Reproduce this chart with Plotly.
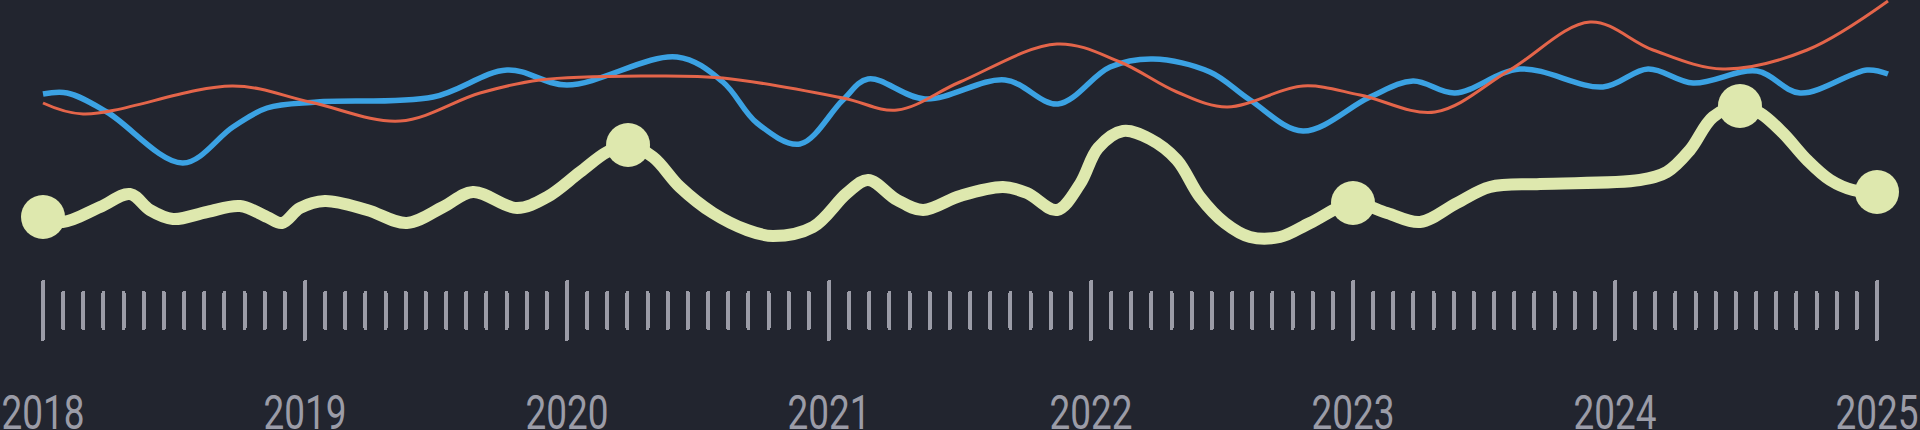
import plotly.graph_objects as go

# ---------------- data (x: decimal year, y: index value) ----------------
green_x = [2018.000, 2018.076, 2018.218, 2018.332, 2018.408, 2018.496, 2018.626, 2018.752,
           2018.855, 2018.912, 2018.981, 2019.076, 2019.237, 2019.389, 2019.527, 2019.641,
           2019.809, 2019.924, 2020.050, 2020.153, 2020.233, 2020.328, 2020.431, 2020.557,
           2020.687, 2020.786, 2020.939, 2021.069, 2021.149, 2021.260, 2021.359, 2021.500,
           2021.664, 2021.756, 2021.870, 2021.958, 2022.027, 2022.122, 2022.225, 2022.328,
           2022.416, 2022.511, 2022.607, 2022.721, 2022.836, 2023.000, 2023.130, 2023.256,
           2023.397, 2023.523, 2023.714, 2024.095, 2024.198, 2024.286, 2024.374, 2024.477,
           2024.553, 2024.641, 2024.733, 2024.821, 2024.908, 2025.000]
green_y = [213, 208, 223, 236, 220, 211, 218, 224,
           213, 207, 222, 229, 220, 207, 223, 238,
           222, 233, 258, 278, 285, 273, 243, 217,
           200, 194, 203, 237, 250, 230, 220, 234,
           243, 237, 220, 246, 282, 299, 291, 270,
           233, 207, 193, 193, 207, 227, 217, 208,
           227, 243, 246, 250, 258, 280, 313, 324,
           317, 297, 270, 250, 240, 238]
green_highlight = [0, 20, 45, 55, 61]  # indices of emphasised points

blue_x = [2018.000, 2018.092, 2018.244, 2018.534, 2018.725, 2018.855, 2019.046, 2019.489,
          2019.771, 2020.000, 2020.420, 2020.595, 2020.725, 2020.889, 2021.053, 2021.149,
          2021.366, 2021.672, 2021.874, 2022.073, 2022.237, 2022.454, 2022.607, 2022.809,
          2023.065, 2023.229, 2023.389, 2023.637, 2023.954, 2024.126, 2024.298, 2024.542,
          2024.706, 2024.962, 2025.042]
blue_y = [336, 337, 318, 267, 303, 322, 328, 333,
          360, 345, 373, 348, 307, 286, 330, 351,
          331, 350, 326, 363, 371, 358, 330, 299,
          333, 349, 337, 361, 343, 361, 347, 359,
          337, 360, 356]

orange_x = [2018.000, 2018.153, 2018.725, 2019.019, 2019.363, 2019.668, 2019.897, 2020.305,
            2020.595, 2021.053, 2021.260, 2021.500, 2021.870, 2022.111, 2022.328, 2022.519,
            2022.809, 2023.027, 2023.313, 2023.599, 2023.905, 2024.145, 2024.412, 2024.733,
            2025.042]
orange_y = [327, 316, 344, 328, 309, 337, 350, 354,
            352, 332, 320, 348, 386, 368, 338, 323,
            344, 335, 318, 360, 408, 380, 361, 380,
            429]

year_start, year_end = 2018, 2025
ticks_per_year = 13
year_labels = [str(y) for y in range(year_start, year_end + 1)]

# ---------------- tick positions ----------------
n_minor = (year_end - year_start) * ticks_per_year
minor_vals = [year_start + i / ticks_per_year for i in range(n_minor + 1)]
major_idx = [int(k * ticks_per_year / 2) for k in range(2 * (year_end - year_start) + 1)]
major_vals = [minor_vals[i] for i in major_idx]
major_text = [year_labels[k // 2] if k % 2 == 0 else "" for k in range(len(major_idx))]

# ---------------- style ----------------
BG = "#22252f"
TICK = "#9b9ca7"
GREEN = "#dee8ae"
BLUE = "#3ba2e3"
ORANGE = "#e4654a"
FONT = "Roboto, Liberation Sans, sans-serif"

W, H = 1920, 430
px_per_year = 262.0
x0 = year_start - 43 / px_per_year
x1 = x0 + W / px_per_year
xr = [x0, x1]

fig = go.Figure()
fig.add_trace(go.Scatter(x=blue_x, y=blue_y, mode="lines",
                         line=dict(color=BLUE, width=5.5, shape="spline", smoothing=1.0),
                         hoverinfo="skip", showlegend=False))
fig.add_trace(go.Scatter(x=orange_x, y=orange_y, mode="lines",
                         line=dict(color=ORANGE, width=3, shape="spline", smoothing=1.0),
                         hoverinfo="skip", showlegend=False))
fig.add_trace(go.Scatter(x=green_x, y=green_y, mode="lines",
                         line=dict(color=GREEN, width=12, shape="spline", smoothing=1.0),
                         hoverinfo="skip", showlegend=False))
fig.add_trace(go.Scatter(x=[green_x[i] for i in green_highlight],
                         y=[green_y[i] for i in green_highlight], mode="markers",
                         marker=dict(color=GREEN, size=44, line=dict(width=0)),
                         hoverinfo="skip", showlegend=False, cliponaxis=False))

common = dict(range=xr, overlaying="x", anchor="free", side="bottom",
              showgrid=False, zeroline=False, showline=False, tickmode="array",
              tickvals=major_vals, ticktext=major_text, tickcolor=TICK, tickwidth=4,
              automargin=False)

fig.update_layout(
    template="none",
    width=W, height=H,
    margin=dict(l=0, r=0, t=0, b=0, pad=0, autoexpand=False),
    paper_bgcolor=BG, plot_bgcolor=BG,
    xaxis=dict(range=xr, visible=False, showgrid=False, zeroline=False, automargin=False),
    yaxis=dict(range=[0, H], visible=False, showgrid=False, zeroline=False, automargin=False),
    # lower half of the tick marks + year labels
    xaxis2=dict(**common, position=(H - 310) / H, ticks="outside", ticklen=28,
                showticklabels=True, ticklabelstandoff=32, ticklabeloverflow="allow",
                tickfont=dict(family=FONT, size=48, color=TICK),
                minor=dict(ticks="outside", ticklen=17, tickwidth=4, tickcolor=TICK,
                           tickvals=minor_vals, showgrid=False)),
    # upper half of the tick marks
    xaxis3=dict(**common, position=(H - 312) / H, ticks="inside", ticklen=30,
                showticklabels=False,
                minor=dict(ticks="inside", ticklen=19, tickwidth=4, tickcolor=TICK,
                           tickvals=minor_vals, showgrid=False)),
)
# empty traces so the overlay tick axes are drawn
fig.add_trace(go.Scatter(x=[], y=[], xaxis="x2", yaxis="y", showlegend=False))
fig.add_trace(go.Scatter(x=[], y=[], xaxis="x3", yaxis="y", showlegend=False))

post = """
document.documentElement.style.overflow = 'hidden';
document.body.style.overflow = 'hidden';
document.body.style.margin = '0';
document.body.style.background = '#22252f';
var gd = document.getElementById('{plot_id}');
function narrowLabels(){
  gd.querySelectorAll('text').forEach(function(t){
    var g = t.parentNode;
    if (!g || !g.getAttribute) return;
    var cls = g.getAttribute('class') || '';
    if (!/tick$/.test(cls)) return;
    var tr = t.getAttribute('transform') || '';
    if (tr.indexOf('scale(') < 0) t.setAttribute('transform', tr + ' scale(0.77,1)');
  });
  gd.querySelectorAll('path.ticks').forEach(function(p){
    p.style.strokeLinecap = 'round';
  });
}
narrowLabels();
try {
  new MutationObserver(function(){ narrowLabels(); }).observe(gd,
    {subtree: true, childList: true, attributes: true, attributeFilter: ['transform']});
} catch (e) {}
"""
fig.write_html("out.html", post_script=post,
               config={"displayModeBar": False, "staticPlot": True})
